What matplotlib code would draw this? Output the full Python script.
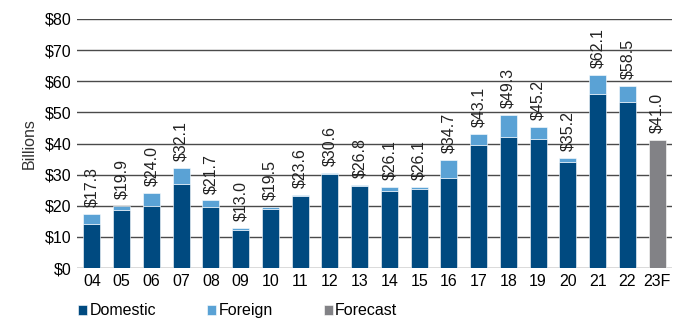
import matplotlib
matplotlib.use("Agg")
import matplotlib.pyplot as plt
import numpy as np

years = ["04", "05", "06", "07", "08", "09", "10", "11", "12", "13", "14", "15",
         "16", "17", "18", "19", "20", "21", "22", "23F"]
totals = [17.3, 19.9, 24.0, 32.1, 21.7, 13.0, 19.5, 23.6, 30.6, 26.8, 26.1, 26.1,
          34.7, 43.1, 49.3, 45.2, 35.2, 62.1, 58.5, 41.0]
domestic = [14.2, 18.5, 20.0, 27.0, 19.6, 12.3, 19.0, 23.0, 30.2, 26.2, 24.7, 25.3,
            28.8, 39.4, 42.0, 41.4, 34.2, 56.0, 53.4]
foreign = [round(t - d, 1) for t, d in zip(totals[:19], domestic)]
forecast = [41.0]

plt.rcParams['font.family'] = ['Liberation Sans', 'DejaVu Sans']

fig = plt.figure(figsize=(6.83, 3.2), dpi=100)
ax = fig.add_axes([77/683, 1-268/320, (672-77)/683, (268-19)/320])

x = np.arange(len(years))
w = 0.57
c_dom = "#004A80"
c_for = "#5AA2D5"
c_fc = "#828286"
fs = 11.5

ax.bar(x[:19], domestic, width=w, color=c_dom, edgecolor="white", linewidth=0.4, label="Domestic", zorder=3)
ax.bar(x[:19], foreign, width=w, bottom=domestic, color=c_for, edgecolor="white", linewidth=0.4, label="Foreign", zorder=3)
ax.bar(x[19:], forecast, width=w, color=c_fc, edgecolor="white", linewidth=0.4, label="Forecast", zorder=3)

for xi, t in zip(x, totals):
    ax.annotate(f"${t:.1f}", (xi, t), xytext=(0, 5), textcoords="offset points",
                rotation=90, ha="center", va="bottom", fontsize=fs, color="#222222", zorder=4)

ax.set_ylim(0, 80)
ax.set_xlim(-0.5, 19.5)
ax.set_yticks(np.arange(0, 81, 10))
ax.set_yticklabels([f"${v}" for v in range(0, 81, 10)], fontsize=fs)
ax.set_xticks(x)
ax.set_xticklabels(years, fontsize=fs)
ax.tick_params(length=0, pad=4)
ax.yaxis.grid(True, color="#4a4a4a", linewidth=1.0, zorder=0)
for s in ax.spines.values():
    s.set_visible(False)
ax.set_ylabel("Billions", fontsize=fs, labelpad=6, color="#333333")

handles, labels = ax.get_legend_handles_labels()
fig.legend(handles, labels, loc="lower left", bbox_to_anchor=(64/683, -0.04), ncol=3,
           frameon=False, fontsize=fs, handlelength=0.55, handleheight=0.55,
           handletextpad=0.15, columnspacing=3.2)

fig.savefig("out.png", dpi=100)
